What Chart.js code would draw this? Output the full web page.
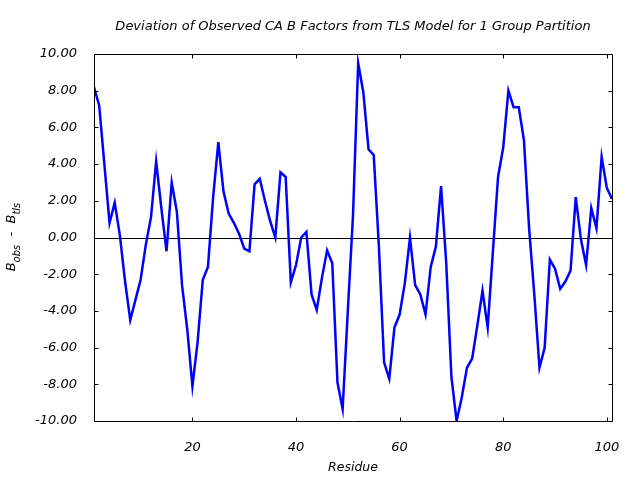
<!DOCTYPE html>
<html>
<head>
<meta charset="utf-8">
<script src="https://cdn.jsdelivr.net/npm/chart.js@4/dist/chart.umd.min.js"></script>
<style>
  html, body { margin: 0; padding: 0; background: #fff; }
</style>
</head>
<body>
<canvas id="myChart" width="640" height="480"></canvas>
<script>
const residues = [
  1, 2, 3, 4, 5, 6, 7, 8, 9, 10, 11, 12, 13, 14, 15, 16, 17, 18, 19, 20,
  21, 22, 23, 24, 25, 26, 27, 28, 29, 30, 31, 32, 33, 34, 35, 36, 37, 38, 39, 40,
  41, 42, 43, 44, 45, 46, 47, 48, 49, 50, 51, 52, 53, 54, 55, 56, 57, 58, 59, 60,
  61, 62, 63, 64, 65, 66, 67, 68, 69, 70, 71, 72, 73, 74, 75, 76, 77, 78, 79, 80,
  81, 82, 83, 84, 85, 86, 87, 88, 89, 90, 91, 92, 93, 94, 95, 96, 97, 98, 99, 100, 101
];

// B_obs - B_tls for each residue
const deviation = [
  8.2, 7.2, 4.0, 0.8, 1.9, 0.1, -2.4, -4.5, -3.4, -2.3,
  -0.4, 1.1, 4.15, 1.6, -0.75, 3.0, 1.4, -2.6, -5.0, -8.1,
  -5.7, -2.3, -1.6, 2.2, 5.2, 2.5, 1.3, 0.8, 0.2, -0.6,
  -0.75, 2.9, 3.2, 2.0, 0.9, 0.0, 3.55, 3.3, -2.45, -1.5,
  0.0, 0.3, -3.1, -3.95, -2.2, -0.7, -1.4, -7.9, -9.35, -4.0,
  1.2, 9.5, 7.9, 4.8, 4.5, -0.5, -6.8, -7.7, -4.9, -4.2,
  -2.5, 0.0, -2.6, -3.1, -4.2, -1.6, -0.5, 2.8, -1.4, -7.6,
  -10.0, -8.7, -7.1, -6.6, -4.8, -2.9, -4.9, -0.8, 3.3, 4.9,
  8.0, 7.1, 7.1, 5.3, 0.5, -3.1, -7.1, -6.0, -1.2, -1.7,
  -2.8, -2.4, -1.8, 2.2, -0.1, -1.5, 1.6, 0.5, 4.4, 2.7, 2.1
];

const xTicks = [20, 40, 60, 80, 100];
const yTicks = [-10, -8, -6, -4, -2, 0, 2, 4, 6, 8, 10];

const fontFamily = '"DejaVu Sans", sans-serif';

// gnuplot style frame: box, inward ticks on all sides, zero line
const framePlugin = {
  id: 'frame',
  beforeDatasetsDraw(chart) {
    const { ctx, chartArea: a, scales: { y } } = chart;
    const y0 = Math.round(y.getPixelForValue(0)) + 0.5;
    ctx.save();
    ctx.strokeStyle = '#000';
    ctx.lineWidth = 1;
    ctx.beginPath();
    ctx.moveTo(a.left, y0);
    ctx.lineTo(a.right, y0);
    ctx.stroke();
    ctx.restore();
  },
  afterDatasetsDraw(chart) {
    const { ctx, chartArea: a, scales: { x, y } } = chart;
    const tick = 4;
    const L = Math.round(a.left) + 0.5, R = Math.round(a.right) + 0.5;
    const T = Math.round(a.top) + 0.5, B = Math.round(a.bottom) + 0.5;
    ctx.save();
    ctx.strokeStyle = '#000';
    ctx.lineWidth = 1;
    ctx.beginPath();
    ctx.rect(L, T, R - L, B - T);
    yTicks.forEach(v => {
      const py = Math.round(y.getPixelForValue(v)) + 0.5;
      ctx.moveTo(L, py); ctx.lineTo(L + tick, py);
      ctx.moveTo(R, py); ctx.lineTo(R - tick, py);
    });
    xTicks.forEach(v => {
      const px = Math.round(x.getPixelForValue(v)) + 0.5;
      ctx.moveTo(px, B); ctx.lineTo(px, B - tick);
      ctx.moveTo(px, T); ctx.lineTo(px, T + tick);
    });
    ctx.stroke();

    // y axis title with subscripts
    const parts = [
      { t: 'B', sub: false },
      { t: 'obs', sub: true },
      { t: '  -  ', sub: false },
      { t: 'B', sub: false },
      { t: 'tls', sub: true }
    ];
    const big = 'italic 13px ' + fontFamily;
    const small = 'italic 10px ' + fontFamily;
    let total = 0;
    parts.forEach(p => {
      ctx.font = p.sub ? small : big;
      p.w = ctx.measureText(p.t).width;
      total += p.w;
    });
    ctx.translate(12, 237);
    ctx.rotate(-Math.PI / 2);
    ctx.fillStyle = '#000';
    ctx.textBaseline = 'middle';
    ctx.textAlign = 'left';
    let cx = -total / 2;
    parts.forEach(p => {
      ctx.font = p.sub ? small : big;
      ctx.fillText(p.t, cx, p.sub ? 5 : 0);
      cx += p.w;
    });
    ctx.restore();
  }
};

new Chart('myChart', {
  type: 'line',
  data: {
    datasets: [{
      label: 'deviation',
      data: residues.map((r, i) => ({ x: r, y: deviation[i] })),
      borderColor: '#0000ff',
      borderWidth: 2.5,
      pointRadius: 0,
      tension: 0,
      fill: false
    }]
  },
  options: {
    responsive: false,
    animation: false,
    layout: { padding: { left: 0, right: 28, top: 0, bottom: 0 } },
    plugins: {
      legend: { display: false },
      tooltip: { enabled: false },
      title: {
        display: true,
        fullSize: false,
        text: 'Deviation of Observed CA B Factors from TLS Model for 1 Group Partition',
        color: '#000',
        font: { family: fontFamily, size: 13, style: 'italic', weight: 'normal', lineHeight: 1.2 },
        padding: { top: 19, bottom: 19.4 }
      }
    },
    scales: {
      x: {
        type: 'linear',
        min: 1,
        max: 101,
        grid: { display: false },
        border: { display: false },
        afterBuildTicks: s => { s.ticks = xTicks.map(v => ({ value: v })); },
        afterFit: s => { s.height = 59; },
        ticks: {
          color: '#000',
          padding: 11,
          maxRotation: 0,
          font: { family: fontFamily, size: 13, style: 'italic' },
          callback: v => String(v)
        },
        title: {
          display: true,
          text: 'Residue',
          color: '#000',
          font: { family: fontFamily, size: 12.5, style: 'italic' },
          padding: { top: 0, bottom: 5 }
        }
      },
      y: {
        min: -10,
        max: 10,
        grid: { display: false },
        border: { display: false },
        afterBuildTicks: s => { s.ticks = yTicks.map(v => ({ value: v })); },
        afterFit: s => { s.width = 94; },
        ticks: {
          color: '#000',
          padding: 9,
          font: { family: fontFamily, size: 13, style: 'italic' },
          callback: v => v.toFixed(2)
        }
      }
    }
  },
  plugins: [framePlugin]
});
</script>
</body>
</html>
